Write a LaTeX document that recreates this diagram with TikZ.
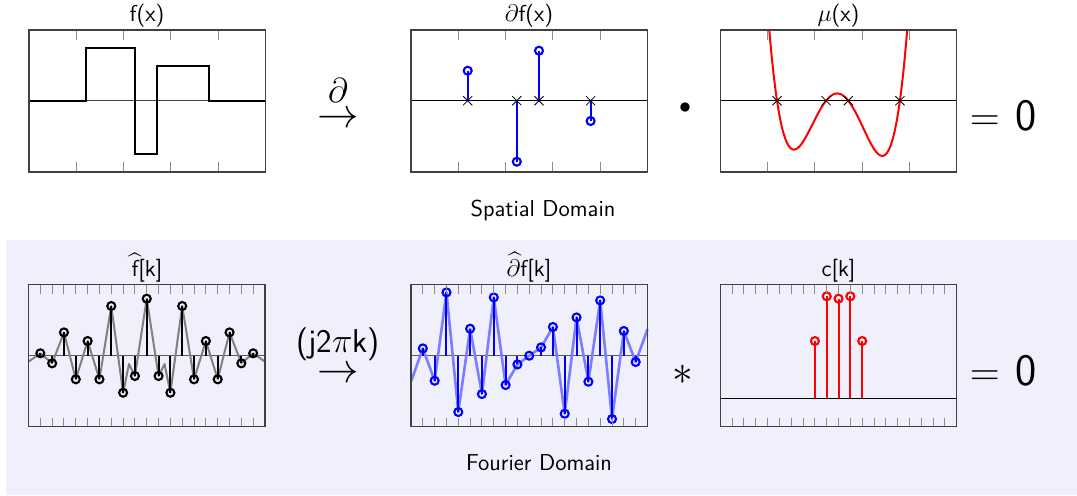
\documentclass[tikz,border=0pt]{standalone}
\usepackage{amsmath}
\usetikzlibrary{shapes.misc}
\definecolor{bgc}{RGB}{240,240,252}
\definecolor{lblue}{RGB}{125,125,255}
\tikzset{
  frame/.style={draw=black!75, line width=0.6pt},
  tickline/.style={draw=black!45, line width=0.5pt},
  axisline/.style={draw=black, line width=0.45pt},
  baxis/.style={draw=black!65, line width=0.7pt},
  ttl/.style={font=\sffamily\fontsize{11.5}{13}\selectfont, inner sep=0pt, anchor=base},
  eqzero/.style={font=\sffamily\huge, inner sep=0pt, anchor=base west},
  xm/.style={draw=black, cross out, minimum size=4.2pt, inner sep=0pt, line width=0.4pt},
  stemline/.style={line width=1pt},
  circ/.style={line width=1.05pt},
  toppanel/.pic={
    \draw[tickline] foreach \i in {1,...,4} {(\i*47.3,0) -- ++(0,10) (\i*47.3,142) -- ++(0,-10)};
    \draw[frame] (0,0) rectangle (236.5,142);
  },
  botpanel/.pic={
    \draw[tickline] foreach \i in {1,...,19} {(\i*11.825,0) -- ++(0,9) (\i*11.825,142) -- ++(0,-9)};
    \draw[frame] (0,0) rectangle (236.5,142);
  }
}
\begin{document}
\begin{tikzpicture}[x=0.5pt,y=-0.5pt]
\useasboundingbox (0,0) rectangle (1077,495);
\fill[bgc] (6,239.5) rectangle (1077,495);

% ---------- Panel 1: f(x)
\begin{scope}[shift={(29,30)}]
  \draw[axisline, draw=black!70] (0,70.7) -- (236.5,70.7);
  \draw[line width=1pt, line join=miter] (0,70.7) -- (56.7,70.7) -- (56.7,18) -- (106,18) -- (106,124) -- (127.5,124) -- (127.5,35.7) -- (179.6,35.7) -- (179.6,70.7) -- (236.5,70.7);
  \pic {toppanel};
\end{scope}
\node[ttl] (t1) at (147,21) {f(x)};

% ---------- Panel 2: derivative
\begin{scope}[shift={(411,30)}]
  \draw[axisline] (0,70.7) -- (236.5,70.7);
  \foreach \xx/\yy [count=\n] in {56.7/40.7, 105.8/131.7, 128/20.7, 179.6/91} {
    \draw[stemline, blue] (\xx,70.7) -- (\xx,\yy);
    \draw[circ, blue] (\xx,\yy) circle[radius=2pt];
    \node[xm] (dx\n) at (\xx,70.7) {};
  }
  \pic {toppanel};
\end{scope}
\node[ttl] (t2) at (529,21) {$\partial$f(x)};

% ---------- Panel 3: mu(x)
\begin{scope}[shift={(720.3,30)}]
  \draw[axisline] (0,70.7) -- (236.5,70.7);
  \begin{scope}
    \clip (0,0) rectangle (236.5,142);
    \draw[red, line width=1pt] plot[domain=0.9:4.1, samples=150, variable=\u]
      ({47.3*\u}, {70.7 - 78*(\u-1.199)*(\u-2.237)*(\u-2.706)*(\u-3.797)});
  \end{scope}
  \foreach \xx [count=\n] in {56.7, 105.8, 128, 179.6} {
    \node[xm] (mx\n) at (\xx,70.7) {};
  }
  \pic {toppanel};
\end{scope}
\node[ttl] (t3) at (838.5,21) {$\mu$(x)};

% ---------- Operators top
\node[font=\huge, inner sep=0pt, anchor=base] (arr1) at (338,127.7) {$\rightarrow$};
\node[font=\fontsize{16}{18}\selectfont, inner sep=0pt, anchor=base] (d1) at (338,102) {$\partial$};
\node[font=\fontsize{11.5}{13}\selectfont, inner sep=0pt] (dot) at (685,108) {$\bullet$};
\node[eqzero] (eq1) at (969.5,130) {$=$\hspace{8pt}{\fontsize{22.5}{26}\selectfont 0}};
\node[ttl] (sd) at (543,216.5) {Spatial Domain};

% ---------- Panel 4: f hat
\begin{scope}[shift={(28.5,284.5)}]
  \draw[baxis] (0,71.2) -- (236.5,71.2);
  \draw[black!50, line width=1pt, line join=round] (0,77.2) -- (11.825,68.8) -- (23.65,78.8) -- (35.475,47.9) -- (47.3,94.8) -- (59.125,56.5) -- (70.95,94.8) -- (82.775,21.5) -- (94.6,108.2) -- (100.5,79.5) -- (106.425,91.5) -- (118.25,14.2) -- (130.075,91.5) -- (136,79.5) -- (141.9,108.2) -- (153.725,21.5) -- (165.55,94.8) -- (177.375,56.5) -- (189.2,94.8) -- (201.025,47.9) -- (212.85,78.8) -- (224.675,68.8) -- (236.5,77.2);
  \foreach \v [count=\k] in {2.4,-7.6,23.3,-23.6,14.7,-23.6,49.7,-37,-20.3,57,-20.3,-37,49.7,-23.6,14.7,-23.6,23.3,-7.6,2.4} {
    \draw[stemline, black] (\k*11.825,71.2) -- (\k*11.825,71.2-\v);
    \draw[circ, black] (\k*11.825,71.2-\v) circle[radius=2pt];
  }
  \pic {botpanel};
\end{scope}
\node[ttl] (t4) at (147,276) {$\widehat{\textsf{f}}$[k]};

% ---------- Panel 5: derivative hat
\begin{scope}[shift={(411,284.5)}]
  \draw[baxis] (0,71.2) -- (236.5,71.2);
  \draw[lblue, line width=1.3pt, line join=round] (0,97.2) -- (11.825,63.9) -- (23.65,96.2) -- (35.475,7.9) -- (47.3,127.5) -- (59.125,44.2) -- (70.95,109.5) -- (82.775,12.9) -- (94.6,100.5) -- (106.425,79.9) -- (118.25,71.2) -- (130.075,62.9) -- (141.9,42.5) -- (153.725,129.2) -- (165.55,32.9) -- (177.375,97.2) -- (189.2,15.9) -- (201.025,134.5) -- (212.85,46.5) -- (224.675,77.5) -- (236.5,44.8);
  \foreach \v [count=\k] in {7.3,-25,63.3,-56.3,27,-38.3,58.3,-29.3,-8.7,0,8.3,28.7,-58,38.3,-26,55.3,-63.3,24.7,-6.3} {
    \draw[stemline, blue] (\k*11.825,71.2) -- (\k*11.825,71.2-\v);
    \draw[circ, blue] (\k*11.825,71.2-\v) circle[radius=2pt];
  }
  \pic {botpanel};
\end{scope}
\node[ttl] (t5) at (529,276) {$\widehat{\partial}$f[k]};

% ---------- Panel 6: c[k]
\begin{scope}[shift={(720.3,284.5)}]
  \draw[axisline] (0,113.8) -- (236.5,113.8);
  \foreach \k/\yy in {8/56.5, 9/11.8, 10/14.2, 11/11.8, 12/56.5} {
    \draw[stemline, red] (\k*11.825,113.8) -- (\k*11.825,\yy);
    \draw[circ, red] (\k*11.825,\yy) circle[radius=2pt];
  }
  \pic {botpanel};
\end{scope}
\node[ttl] (t6) at (838.5,276) {c[k]};

% ---------- Operators bottom
\node[font=\huge, inner sep=0pt, anchor=base] (arr2) at (338,382.1) {$\rightarrow$};
\node[font=\sffamily\fontsize{16.5}{18}\selectfont, inner sep=0pt, anchor=base] (jk) at (338,352) {(j2$\pi$k)};
\node[font=\huge, inner sep=0pt] (ast) at (683,375) {$\ast$};
\node[eqzero] (eq2) at (969.5,385) {$=$\hspace{8pt}{\fontsize{22.5}{26}\selectfont 0}};
\node[ttl] (fd) at (539,470.5) {Fourier Domain};
\end{tikzpicture}
\end{document}
